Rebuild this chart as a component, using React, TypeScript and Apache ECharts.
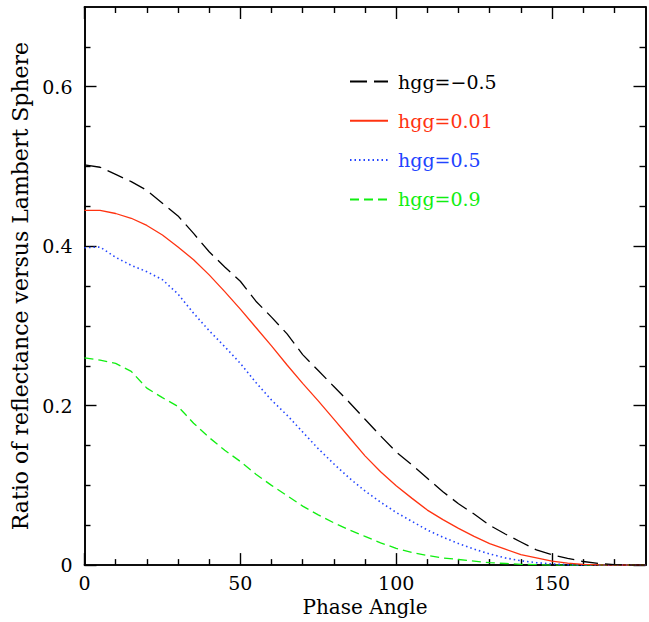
import React, { useEffect, useRef } from "react";
import * as echarts from "echarts";

const phaseAngles = [0, 5, 10, 15, 20, 25, 30, 35, 40, 45, 50, 55, 60, 65, 70, 75, 80, 85, 90, 95, 100, 105, 110, 115, 120, 125, 130, 135, 140, 145, 150, 155, 160, 165, 170, 175, 180];

const hggM05 = [0.502, 0.499, 0.490, 0.481, 0.470, 0.454, 0.438, 0.416, 0.393, 0.374, 0.356, 0.331, 0.311, 0.290, 0.264, 0.244, 0.224, 0.204, 0.183, 0.162, 0.142, 0.126, 0.109, 0.092, 0.077, 0.064, 0.050, 0.039, 0.029, 0.019, 0.013, 0.0085, 0.0045, 0.002, 0.0007, 0.0001, 0];
const hgg001 = [0.445, 0.445, 0.441, 0.435, 0.426, 0.414, 0.399, 0.383, 0.364, 0.343, 0.321, 0.298, 0.275, 0.251, 0.228, 0.206, 0.183, 0.160, 0.137, 0.117, 0.0995, 0.084, 0.069, 0.057, 0.046, 0.036, 0.027, 0.020, 0.013, 0.009, 0.005, 0.0025, 0.001, 0.0003, 0, 0, 0];
const hgg05 = [0.398, 0.399, 0.386, 0.376, 0.368, 0.358, 0.340, 0.316, 0.294, 0.274, 0.253, 0.229, 0.207, 0.188, 0.167, 0.146, 0.127, 0.109, 0.093, 0.079, 0.066, 0.055, 0.044, 0.035, 0.027, 0.020, 0.014, 0.009, 0.0055, 0.003, 0.0015, 0.0006, 0.0002, 0, 0, 0, 0];
const hgg09 = [0.260, 0.257, 0.253, 0.243, 0.222, 0.210, 0.199, 0.178, 0.160, 0.144, 0.130, 0.114, 0.100, 0.087, 0.074, 0.063, 0.053, 0.044, 0.036, 0.028, 0.021, 0.016, 0.012, 0.009, 0.007, 0.005, 0.003, 0.002, 0.001, 0.0005, 0, 0, 0, 0, 0, 0, 0];

const seriesNames = ["hgg=\u22120.5", "hgg=0.01", "hgg=0.5", "hgg=0.9"];
const xMajorTicks = [0, 50, 100, 150];
const xMinorTicks = [10, 20, 30, 40, 60, 70, 80, 90, 110, 120, 130, 140, 160, 170];
const yMajorTicks = [0, 0.2, 0.4, 0.6];
const yMinorTicks = [0.05, 0.1, 0.15, 0.25, 0.3, 0.35, 0.45, 0.5, 0.55, 0.65];

const FONT = "DejaVu Serif";
const colors = ["#000000", "#ff3311", "#2244ff", "#11ee11"];

export default function App() {
  const ref = useRef<HTMLDivElement>(null);
  useEffect(() => {
    if (!ref.current) return;
    const chart = echarts.init(ref.current, undefined, { renderer: "svg" });
    const line = { lineStyle: { color: "#000", width: 1.6 } };
    const xBase = (pos: string, ticks: number[], len: number, showLabel: boolean, extra: any = {}) => ({
      type: "value",
      position: pos,
      min: 0,
      max: 180,
      axisLine: { show: true, onZero: false, ...line },
      splitLine: { show: false },
      axisTick: { show: true, inside: true, length: len, customValues: ticks, lineStyle: { color: "#000", width: 1.4 } },
      axisLabel: showLabel
        ? { show: true, customValues: ticks, color: "#000", fontFamily: FONT, fontSize: 19, margin: 8 }
        : { show: false },
      ...extra,
    });
    const yBase = (pos: string, ticks: number[], len: number, showLabel: boolean, extra: any = {}) => ({
      type: "value",
      position: pos,
      min: 0,
      max: 0.7,
      axisLine: { show: true, onZero: false, ...line },
      splitLine: { show: false },
      axisTick: { show: true, inside: true, length: len, customValues: ticks, lineStyle: { color: "#000", width: 1.4 } },
      axisLabel: showLabel
        ? { show: true, customValues: ticks, color: "#000", fontFamily: FONT, fontSize: 19, margin: 12 }
        : { show: false },
      ...extra,
    });
    const mk = (name: string, data: number[], color: string, type: any, width: number, z: number) => ({
      name,
      type: "line",
      xAxisIndex: 0,
      yAxisIndex: 0,
      data: phaseAngles.map((x, i) => [x, data[i]]),
      showSymbol: false,
      symbol: "none",
      smooth: false,
      lineStyle: { color, type, width },
      itemStyle: { color },
      z,
    });
    chart.setOption({
      animation: false,
      backgroundColor: "#ffffff",
      grid: { left: 84.5, right: 3.5, top: 7, bottom: 54.5, containLabel: false },
      xAxis: [
        xBase("bottom", xMajorTicks, 12, true, {
          name: "Phase Angle",
          nameLocation: "middle",
          nameGap: 31,
          nameTextStyle: { color: "#000", fontFamily: FONT, fontSize: 20 },
        }),
        xBase("bottom", xMinorTicks, 6, false),
        xBase("top", xMajorTicks, 12, false),
        xBase("top", xMinorTicks, 6, false),
      ],
      yAxis: [
        yBase("left", yMajorTicks, 12, true, {
          name: "Ratio of reflectance versus Lambert Sphere",
          nameLocation: "middle",
          nameGap: 50,
          nameTextStyle: { color: "#000", fontFamily: FONT, fontSize: 22 },
        }),
        yBase("left", yMinorTicks, 6, false),
        yBase("right", yMajorTicks, 12, false),
        yBase("right", yMinorTicks, 6, false),
      ],
      legend: {
        show: true,
        orient: "vertical",
        left: 349,
        top: 72,
        padding: 0,
        itemWidth: 38,
        itemHeight: 20,
        itemGap: 20.3,
        itemStyle: { opacity: 0 },
        textStyle: { fontFamily: FONT, fontSize: 19, padding: [0, 0, 0, 5] },
        data: seriesNames.map((n, i) => ({ name: n, textStyle: { color: colors[i] } })),
      },
      series: [
        mk(seriesNames[0], hggM05, colors[0], [17, 7], 1.3, 4),
        mk(seriesNames[1], hgg001, colors[1], "solid", 1.3, 3),
        mk(seriesNames[2], hgg05, colors[2], [1.5, 3], 1.6, 2),
        mk(seriesNames[3], hgg09, colors[3], [9, 5], 1.3, 1),
      ],
    });
    return () => chart.dispose();
  }, []);
  return (
    <div
      ref={ref}
      style={{ position: "fixed", left: 0, top: 0, width: 649, height: 622, background: "#fff" }}
    />
  );
}
